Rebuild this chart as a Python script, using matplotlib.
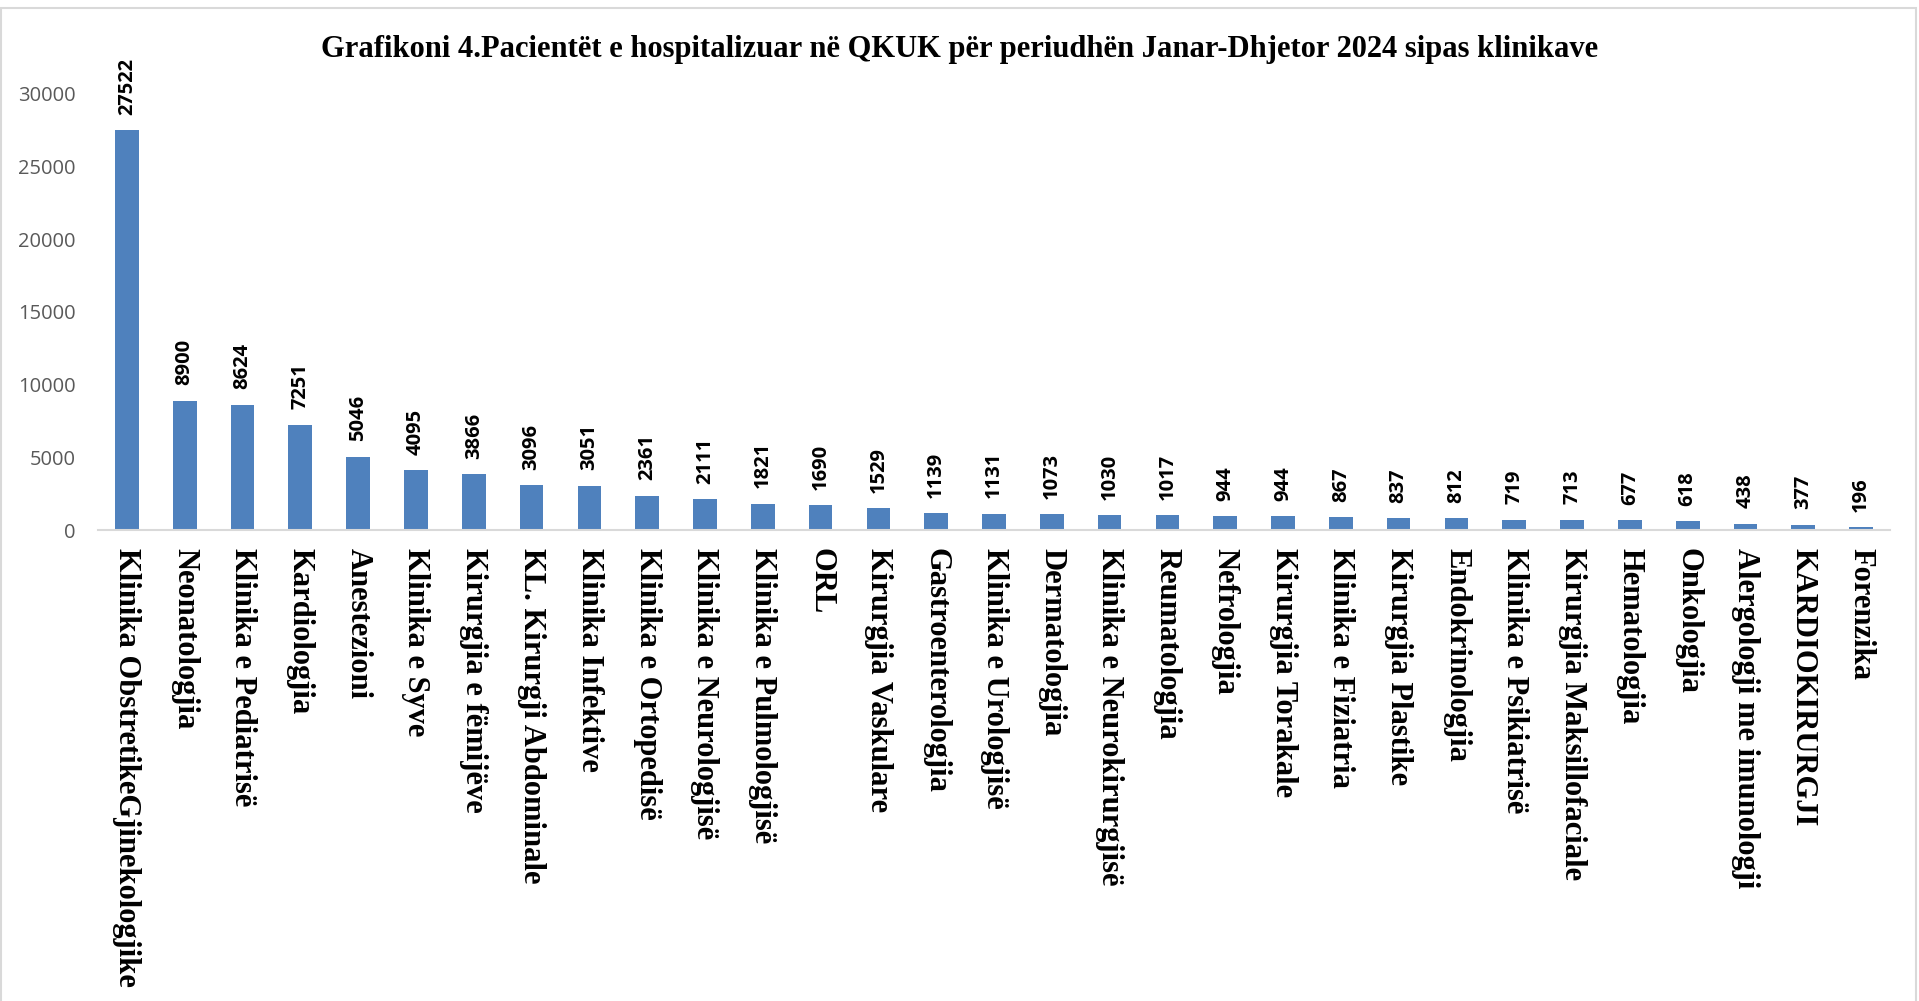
import matplotlib
matplotlib.use("Agg")
import matplotlib.pyplot as plt
from matplotlib.patches import Rectangle

# chart data
clinics = [
    "Klinika ObstretikeGjinekologjike", "Neonatologjia", "Klinika e Pediatrisë",
    "Kardiologjia", "Anestezioni", "Klinika e Syve", "Kirurgjia e fëmijëve",
    "KL. Kirurgji Abdominale", "Klinika Infektive", "Klinika e Ortopedisë",
    "Klinika e Neurologjisë", "Klinika e Pulmologjisë", "ORL",
    "Kirurgjia Vaskulare", "Gastroenterologjia", "Klinika e Urologjisë",
    "Dermatologjia", "Klinika e Neurokirurgjisë", "Reumatologjia",
    "Nefrologjia", "Kirurgjia Torakale", "Klinika e Fiziatria",
    "Kirurgjia Plastike", "Endokrinologjia", "Klinika e Psikiatrisë",
    "Kirurgjia Maksillofaciale", "Hematologjia", "Onkologjia",
    "Alergologji me imunologji", "KARDIOKIRURGJI", "Forenzika",
]
patients = [27522, 8900, 8624, 7251, 5046, 4095, 3866, 3096, 3051, 2361,
            2111, 1821, 1690, 1529, 1139, 1131, 1073, 1030, 1017, 944,
            944, 867, 837, 812, 719, 713, 677, 618, 438, 377, 196]
y_ticks = [0, 5000, 10000, 15000, 20000, 25000, 30000]

title = "Grafikoni 4.Pacientët e hospitalizuar në QKUK për periudhën Janar-Dhjetor 2024 sipas klinikave"

W, H = 1919, 1001
fig = plt.figure(figsize=(W / 100, H / 100), dpi=100)

# chart border
fig.patches.append(Rectangle((1 / W, -0.01), 1915 / W, 1 - 8 / H + 0.01,
                             transform=fig.transFigure, fill=False,
                             edgecolor="#D9D9D9", linewidth=1.5))

ax = fig.add_axes([98 / W, 1 - 530 / H, (1890 - 98) / W, (530 - 94) / H])
x = list(range(len(clinics)))
ax.bar(x, patients, width=0.41, color="#4F81BD")

ax.set_xlim(-0.5, len(clinics) - 0.5)
ax.set_ylim(0, 30000)
ax.set_yticks(y_ticks)
ax.set_yticklabels([str(t) for t in y_ticks], fontfamily="Open Sans",
                   fontsize=14.5, color="#595959")
ax.tick_params(axis="y", length=0, pad=16)
ax.set_xticks(x)
ax.set_xticklabels(clinics, rotation=270, fontfamily="Liberation Serif",
                   fontweight="bold", fontsize=22, va="top", ha="center")
ax.tick_params(axis="x", length=0, pad=13)

for side in ["left", "right", "top"]:
    ax.spines[side].set_visible(False)
ax.spines["bottom"].set_color("#D9D9D9")
ax.spines["bottom"].set_linewidth(1.5)

for xi, v in zip(x, patients):
    ax.annotate(str(v), (xi, v), xytext=(0, 11), textcoords="offset points",
                rotation=90, ha="center", va="bottom", fontfamily="Open Sans",
                fontweight="bold", fontsize=14.5)

fig.text(0.5, 1 - 49 / H, title, ha="center", va="center",
         fontfamily="Liberation Serif", fontweight="bold", fontsize=22)

fig.savefig("out.png", dpi=100)
